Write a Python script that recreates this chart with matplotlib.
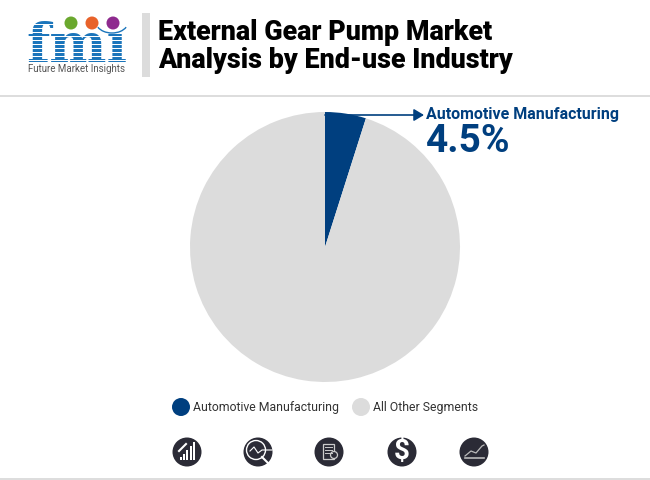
import matplotlib
matplotlib.use('Agg')
import matplotlib.pyplot as plt
from matplotlib.patches import Circle, Rectangle, Arc

# Data
segments = ['Automotive Manufacturing', 'All Other Segments']
shares = [4.9, 95.1]  # slice as drawn in the picture, a bit wider than its label
colors = ['#003f7f', '#dcdcdc']
callout_label = 'Automotive Manufacturing'
callout_value = '4.5%'
title_lines = ['External Gear Pump Market', 'Analysis by End-use Industry']

NAVY = '#003f7f'
ICON = '#2b2b36'
LOGO = '#1b75bb'

plt.rcParams['font.family'] = ['Roboto', 'DejaVu Sans']

fig = plt.figure(figsize=(6.5, 4.8), dpi=100)

# Page layer in pixel coordinates
bg = fig.add_axes([0, 0, 1, 1])
bg.set_xlim(0, 650)
bg.set_ylim(480, 0)
bg.axis('off')

# Rules and title bar
bg.add_patch(Rectangle((0, 95), 650, 2, color='#dddddd', lw=0))
bg.add_patch(Rectangle((0, 478), 650, 2, color='#dddddd', lw=0))
bg.add_patch(Rectangle((142, 13), 8, 64, color='#dcdcdc', lw=0))
bg.text(158, 32, title_lines[0], fontsize=19.4, fontweight=900, color='black', va='center')
bg.text(158, 61, title_lines[1], fontsize=19.4, fontweight=900, color='black', va='center')

# Logo: stripes and badges go over the letters
bg.text(77, 62, 'fmi', family='DejaVu Serif', fontsize=39, fontweight='bold', color=LOGO,
        ha='center', va='baseline')
bg.add_patch(Rectangle((105, 12), 26, 19, color='white', lw=0, zorder=4))
for y in range(24, 62, 4):
    bg.add_patch(Rectangle((25, y), 105, 0.8, color='white', lw=0, zorder=4))
for x, c in [(71, '#6aa82e'), (92, '#e8622a'), (113, '#8e2a8e')]:
    bg.add_patch(Circle((x, 23), 6.5, color=c, lw=0, zorder=5))
bg.add_patch(Arc((112, 22), 32, 22, theta1=20, theta2=160, color=LOGO, lw=1, zorder=5))
bg.text(76, 68.5, 'Future Market Insights', fontsize=7, color='#555555', ha='center', va='center')

# Pie
ax = fig.add_axes([190 / 650, (480 - 382) / 480, 270 / 650, 270 / 480])
ax.pie(shares, colors=colors, startangle=90, counterclock=False, radius=1,
       wedgeprops={'linewidth': 0})
ax.set_xlim(-1, 1)
ax.set_ylim(-1, 1)

# Callout, on top of the pie
top = fig.add_axes([0, 0, 1, 1], facecolor='none')
top.set_xlim(0, 650)
top.set_ylim(480, 0)
top.axis('off')
top.annotate('', xy=(424, 115), xytext=(325, 115),
             arrowprops=dict(arrowstyle='-|>,head_length=0.5,head_width=0.3', color=NAVY, lw=1.2,
                             mutation_scale=12, shrinkA=0, shrinkB=0))
top.text(426, 114.5, callout_label, fontsize=11.5, fontweight='bold', color=NAVY, va='center')
top.text(426, 141, callout_value, fontsize=28, fontweight='bold', color=NAVY, va='center')

# Legend
for x, c, label in [(181, colors[0], segments[0]), (361, colors[1], segments[1])]:
    top.add_patch(Circle((x, 407), 9, color=c, lw=0))
    top.text(x + 12, 407.5, label, fontsize=8.8, color='#333333', va='center')

# Icon row
for x in [187, 258, 329, 402, 474]:
    top.add_patch(Circle((x, 452), 14.5, color=ICON, lw=0))
# bars
for i, h in enumerate([3, 6, 10, 14, 18]):
    top.add_patch(Rectangle((180 + i * 3.2, 460 - h), 2, h, color='white', lw=0))
top.plot([179, 186], [451, 444], color='white', lw=1.5)
# magnifier
top.add_patch(Circle((256, 450), 9.5, fc='none', ec='white', lw=1))
top.plot([250, 254, 258, 262, 272], [451, 447, 453, 450, 450], color='white', lw=0.8)
top.plot([262, 270], [457, 465], color='white', lw=1.5)
# document
top.add_patch(Rectangle((323, 444), 11, 15, fc='none', ec='#cccccc', lw=0.9))
for y in [447, 450, 453]:
    top.plot([325, 332], [y, y], color='#cccccc', lw=0.7)
top.add_patch(Circle((334, 455), 3.5, fc=ICON, ec='#cccccc', lw=0.9))
# dollar
top.text(402, 452, '$', fontsize=20, fontweight='bold', color='white', ha='center', va='center')
# area line
top.plot([465, 471, 476, 482, 484], [456, 451, 453, 446, 445], color='#bbbbbb', lw=0.9)
top.plot([465, 484], [458, 458], color='#bbbbbb', lw=1.2)

fig.savefig('out.png', dpi=100)
